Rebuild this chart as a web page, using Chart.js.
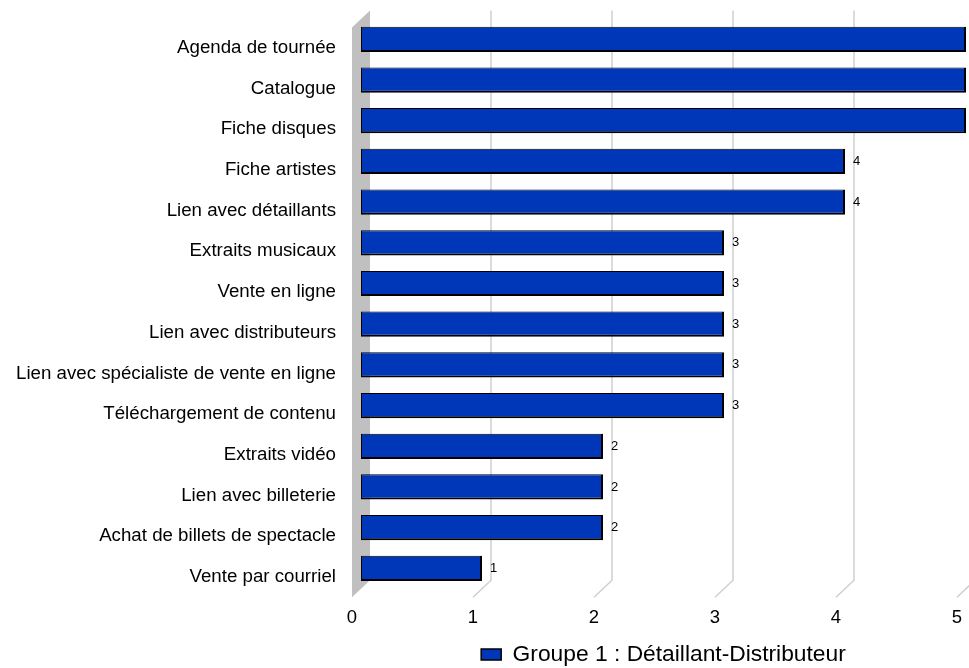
<!DOCTYPE html>
<html>
<head>
<meta charset="utf-8">
<script src="https://cdn.jsdelivr.net/npm/chart.js@4.4.0/dist/chart.umd.min.js"></script>
<style>
  html, body { margin: 0; padding: 0; background: #fff; }
  #wrap { width: 969px; height: 668px; }
</style>
</head>
<body>
<div id="wrap"><canvas id="myChart" width="969" height="668"></canvas></div>
<script>
// Fonctions du site, du haut vers le bas
var fonctions = [
    'Agenda de tournée',
    'Catalogue',
    'Fiche disques',
    'Fiche artistes',
    'Lien avec détaillants',
    'Extraits musicaux',
    'Vente en ligne',
    'Lien avec distributeurs',
    'Lien avec spécialiste de vente en ligne',
    'Téléchargement de contenu',
    'Extraits vidéo',
    'Lien avec billeterie',
    'Achat de billets de spectacle',
    'Vente par courriel'
];

// nombre de réponses par fonction
var groupe1 = [5, 5, 5, 4, 4, 3, 3, 3, 3, 3, 2, 2, 2, 1];

var serieLabel = 'Groupe 1 : Détaillant-Distributeur';
var xMin = 0;
var xMax = 5;

var police = "'Liberation Sans', Arial, sans-serif";

// fake 3D depth: back plane is up/right, front plane down/left
var depthX = 9;
var depthY = 8.5;

// keep the tick labels from pushing the plot area inwards
function sansMarge(scale) {
    scale.paddingTop = 0;
    scale.paddingBottom = 0;
    scale.paddingLeft = 0;
    scale.paddingRight = 0;
}

// grey wall on the left plus the back gridlines, then the value labels
var troisD = {
    id: 'troisD',
    beforeDatasetsDraw: function (chart) {
        var ctx = chart.ctx;
        var area = chart.chartArea;
        var xs = chart.scales.x;

        ctx.save();
        // left wall
        var x0 = xs.getPixelForValue(xMin);
        ctx.fillStyle = '#c0c0c0';
        ctx.beginPath();
        ctx.moveTo(x0 - depthX, area.top + depthY);
        ctx.lineTo(x0 + depthX, area.top - depthY);
        ctx.lineTo(x0 + depthX, area.bottom - depthY);
        ctx.lineTo(x0 - depthX, area.bottom + depthY);
        ctx.closePath();
        ctx.fill();

        // back gridlines running down then forward along the floor
        ctx.strokeStyle = '#cfcfcf';
        ctx.lineWidth = 1.5;
        for (var v = xMin + 1; v <= xMax; v++) {
            var px = xs.getPixelForValue(v);
            ctx.beginPath();
            ctx.moveTo(px + depthX, area.top - depthY);
            ctx.lineTo(px + depthX, area.bottom - depthY);
            ctx.lineTo(px - depthX, area.bottom + depthY);
            ctx.stroke();
        }
        ctx.restore();
    },
    afterDatasetsDraw: function (chart) {
        var ctx = chart.ctx;
        var meta = chart.getDatasetMeta(0);
        ctx.save();
        ctx.font = '13px ' + police;
        ctx.fillStyle = '#000';
        ctx.textAlign = 'left';
        ctx.textBaseline = 'middle';
        meta.data.forEach(function (bar, i) {
            ctx.fillText(String(groupe1[i]), bar.x + 8, bar.y);
        });
        ctx.restore();
    }
};

var ctx = document.getElementById('myChart').getContext('2d');
var chart = new Chart(ctx, {
    type: 'bar',
    data: {
        labels: fonctions,
        datasets: [{
            label: serieLabel,
            data: groupe1,
            backgroundColor: '#0037b8',
            borderColor: '#000000',
            borderWidth: { top: 1, left: 1, right: 2, bottom: 2 },
            borderSkipped: false,
            categoryPercentage: 1,
            barPercentage: 0.62
        }]
    },
    options: {
        indexAxis: 'y',
        responsive: false,
        devicePixelRatio: 1,
        animation: false,
        layout: {
            padding: { top: 19, right: 3, bottom: -8, left: 0 }
        },
        scales: {
            x: {
                min: xMin,
                max: xMax,
                grid: { display: false, drawTicks: false },
                border: { display: false },
                ticks: {
                    stepSize: 1,
                    color: '#000',
                    font: { family: police, size: 18.5 },
                    padding: 18,
                    labelOffset: -depthX,
                    maxRotation: 0
                },
                afterFit: function (scale) {
                    scale.height = 44.5;
                    sansMarge(scale);
                }
            },
            y: {
                grid: { display: false, drawTicks: false },
                border: { display: false },
                ticks: {
                    color: '#000',
                    font: { family: police, size: 18.7 },
                    padding: 25,
                    labelOffset: depthY
                },
                afterFit: function (scale) {
                    scale.width = 361;
                    sansMarge(scale);
                }
            }
        },
        plugins: {
            legend: {
                position: 'bottom',
                fullSize: false,
                labels: {
                    boxWidth: 20,
                    boxHeight: 11,
                    padding: 10,
                    color: '#000',
                    font: { family: police, size: 22.8 }
                }
            },
            tooltip: { enabled: false }
        }
    },
    plugins: [troisD]
});
</script>
</body>
</html>
